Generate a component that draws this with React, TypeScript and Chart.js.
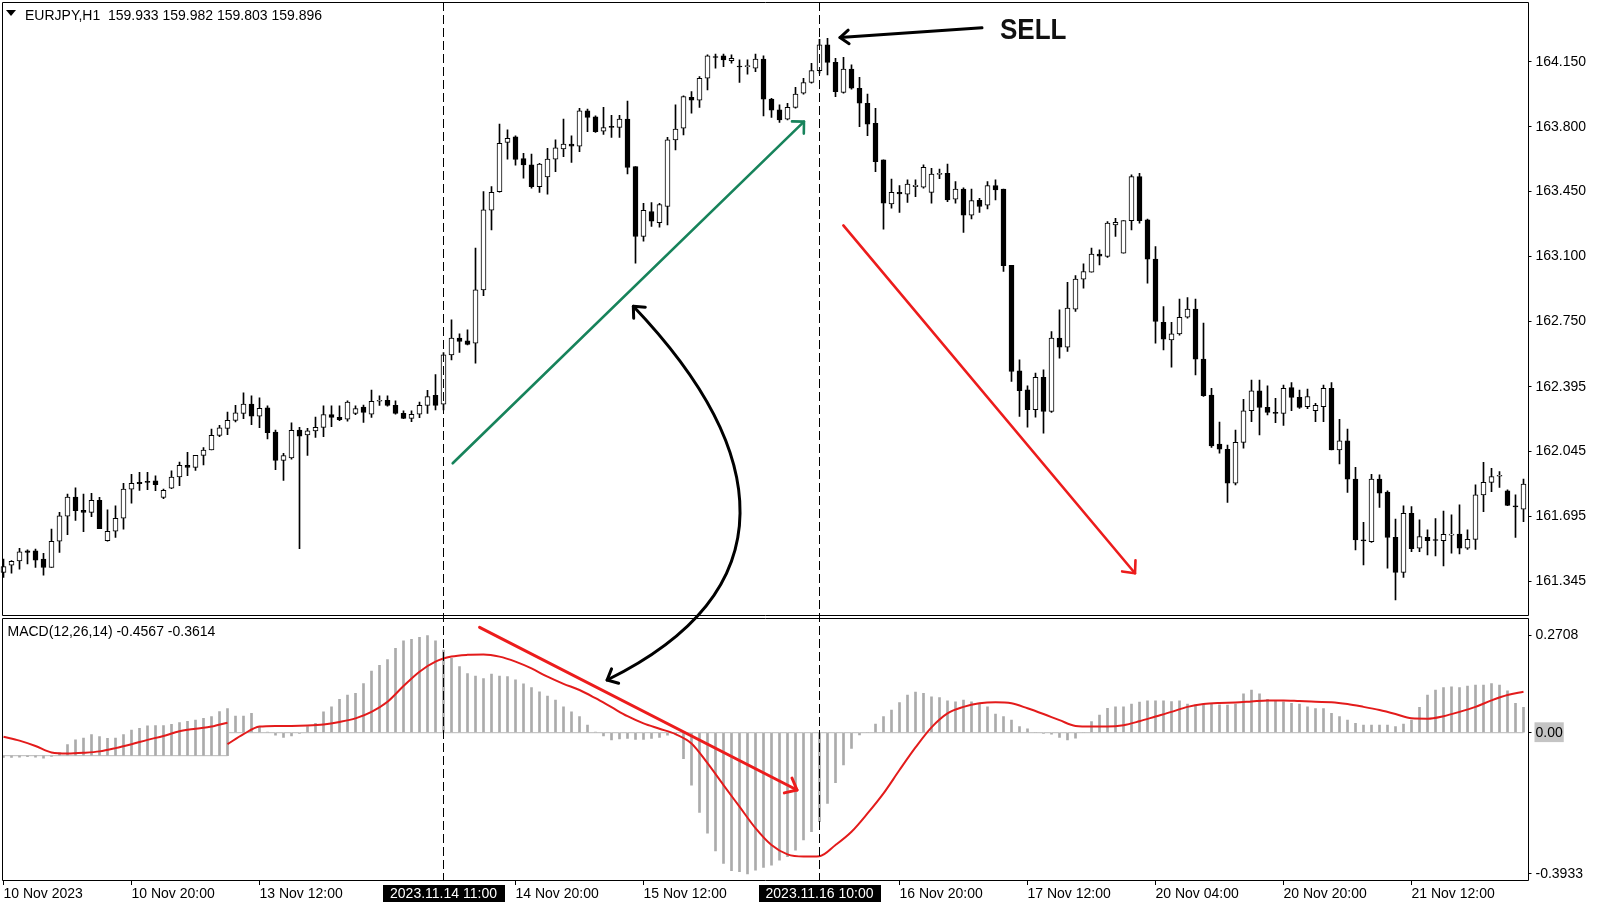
import React, { useEffect, useRef } from 'react';
import { Chart, registerables } from 'chart.js';

Chart.register(...registerables);

const FONT_FAMILY = '"Liberation Sans", Arial, sans-serif';

// ---------- categories (hourly bars) ----------
const sessionDays = ['10 Nov', '13 Nov', '14 Nov', '15 Nov', '16 Nov', '17 Nov', '20 Nov', '21 Nov', '22 Nov'];
const sessionFirstHour = [4, 0, 0, 0, 0, 0, 0, 0, 0];
const sessionLastHour = [23, 23, 23, 23, 23, 23, 23, 23, 2];

const barLabels: string[] = [];
sessionDays.forEach((d, k) => {
  for (let h = sessionFirstHour[k]; h <= sessionLastHour[k]; h++) {
    barLabels.push(`${d} ${String(h).padStart(2, '0')}:00`);
  }
});

// ---------- axis tick labels ----------
const xTickBars = [0, 16, 32, 64, 80, 112, 128, 144, 160, 176];
const xTickTexts = ['10 Nov 2023', '10 Nov 20:00', '13 Nov 12:00', '14 Nov 20:00', '15 Nov 12:00', '16 Nov 20:00', '17 Nov 12:00', '20 Nov 04:00', '20 Nov 20:00', '21 Nov 12:00'];
const priceTickValues = [164.15, 163.8, 163.45, 163.1, 162.75, 162.395, 162.045, 161.695, 161.345];
const priceTickLabels = ['164.150', '163.800', '163.450', '163.100', '162.750', '162.395', '162.045', '161.695', '161.345'];
const macdTickValues = [0.2708, 0, -0.3933];
const macdTickLabels = ['0.2708', '0.00', '-0.3933'];
const priceRange = [161.157, 164.474];
const macdRange = [-0.4103, 0.3251];

// ---------- EURJPY H1 OHLC ----------
const opens = [
  161.393, 161.431, 161.455, 161.509, 161.509, 161.465, 161.419, 161.561, 161.696, 161.800,
  161.728, 161.717, 161.782, 161.564, 161.615, 161.685, 161.842, 161.879, 161.885, 161.887,
  161.797, 161.847, 161.908, 161.971, 161.960, 162.025, 162.054, 162.133, 162.171, 162.214,
  162.252, 162.302, 162.236, 162.281, 162.151, 161.998, 162.011, 162.162, 162.135, 162.157,
  162.176, 162.245, 162.230, 162.220, 162.252, 162.286, 162.248, 162.317, 162.322, 162.295,
  162.252, 162.225, 162.248, 162.295, 162.349, 162.302, 162.568, 162.658, 162.644, 162.631,
  162.919, 163.349, 163.450, 163.716, 163.745, 163.628, 163.594, 163.477, 163.529, 163.625,
  163.680, 163.706, 163.695, 163.886, 163.853, 163.776, 163.803, 163.797, 163.841, 163.585,
  163.207, 163.342, 163.282, 163.369, 163.729, 163.792, 163.959, 163.943, 164.062, 164.175,
  164.183, 164.157, 164.125, 164.125, 164.116, 164.165, 163.949, 163.891, 163.841, 163.905,
  163.981, 164.039, 164.103, 164.242, 164.148, 163.986, 164.111, 164.008, 163.927, 163.819,
  163.621, 163.383, 163.446, 163.436, 163.477, 163.473, 163.445, 163.542, 163.549, 163.409,
  163.463, 163.322, 163.403, 163.376, 163.482, 163.463, 163.052, 162.482, 162.379, 162.271,
  162.446, 162.262, 162.658, 162.609, 162.815, 162.977, 163.014, 163.112, 163.099, 163.270,
  163.117, 163.293, 163.531, 163.297, 163.085, 162.744, 162.649, 162.681, 162.771, 162.815,
  162.545, 162.351, 162.086, 162.058, 161.874, 162.095, 162.266, 162.373, 162.284, 162.257,
  162.252, 162.391, 162.338, 162.288, 162.266, 162.288, 162.387, 162.054, 162.103, 161.897,
  161.566, 161.559, 161.897, 161.827, 161.582, 161.393, 161.712, 161.523, 161.582, 161.566,
  161.564, 161.593, 161.600, 161.523, 161.571, 161.811, 161.879, 161.912, 161.833, 161.752,
  161.734,
];
const highs = [
  161.464, 161.456, 161.523, 161.514, 161.518, 161.496, 161.627, 161.717, 161.816, 161.849,
  161.816, 161.820, 161.798, 161.730, 161.752, 161.874, 161.923, 161.933, 161.933, 161.914,
  161.842, 161.941, 161.989, 162.041, 162.025, 162.067, 162.167, 162.187, 162.259, 162.295,
  162.362, 162.346, 162.335, 162.292, 162.162, 162.036, 162.200, 162.176, 162.171, 162.232,
  162.293, 162.293, 162.292, 162.319, 162.293, 162.297, 162.378, 162.346, 162.346, 162.319,
  162.265, 162.265, 162.313, 162.376, 162.461, 162.580, 162.757, 162.681, 162.703, 163.144,
  163.450, 163.477, 163.815, 163.783, 163.751, 163.657, 163.653, 163.603, 163.684, 163.729,
  163.842, 163.751, 163.900, 163.895, 163.859, 163.905, 163.862, 163.862, 163.939, 163.585,
  163.387, 163.390, 163.387, 163.743, 163.918, 163.967, 163.990, 164.071, 164.188, 164.193,
  164.193, 164.188, 164.161, 164.161, 164.193, 164.183, 163.954, 163.918, 163.927, 164.013,
  164.062, 164.143, 164.272, 164.278, 164.170, 164.175, 164.134, 164.067, 163.977, 163.900,
  163.621, 163.518, 163.482, 163.513, 163.513, 163.594, 163.576, 163.571, 163.599, 163.504,
  163.470, 163.463, 163.414, 163.504, 163.513, 163.463, 163.052, 162.541, 162.401, 162.469,
  162.487, 162.694, 162.811, 162.960, 162.996, 163.059, 163.144, 163.135, 163.288, 163.306,
  163.293, 163.540, 163.549, 163.301, 163.153, 162.829, 162.744, 162.869, 162.877, 162.869,
  162.739, 162.387, 162.205, 162.081, 162.162, 162.328, 162.432, 162.432, 162.400, 162.333,
  162.405, 162.418, 162.378, 162.383, 162.306, 162.405, 162.418, 162.220, 162.167, 161.960,
  161.663, 161.923, 161.919, 161.833, 161.680, 161.752, 161.748, 161.676, 161.622, 161.683,
  161.724, 161.703, 161.757, 161.622, 161.865, 161.987, 161.955, 161.937, 161.838, 161.811,
  161.897,
];
const lows = [
  161.366, 161.388, 161.410, 161.438, 161.419, 161.377, 161.419, 161.501, 161.597, 161.674,
  161.613, 161.694, 161.629, 161.561, 161.582, 161.626, 161.766, 161.836, 161.840, 161.834,
  161.791, 161.845, 161.861, 161.915, 161.944, 161.973, 162.054, 162.126, 162.137, 162.205,
  162.223, 162.191, 162.175, 162.113, 161.948, 161.890, 162.004, 161.521, 162.025, 162.122,
  162.126, 162.180, 162.212, 162.209, 162.245, 162.203, 162.230, 162.295, 162.290, 162.248,
  162.223, 162.207, 162.229, 162.252, 162.270, 162.270, 162.541, 162.581, 162.622, 162.523,
  162.888, 163.243, 163.446, 163.625, 163.592, 163.522, 163.468, 163.445, 163.436, 163.558,
  163.639, 163.608, 163.666, 163.774, 163.769, 163.758, 163.743, 163.743, 163.545, 163.063,
  163.182, 163.261, 163.257, 163.270, 163.675, 163.756, 163.873, 163.904, 163.999, 164.116,
  164.125, 164.143, 164.039, 164.084, 164.098, 163.859, 163.851, 163.823, 163.837, 163.900,
  163.976, 164.035, 164.089, 164.080, 163.963, 163.981, 164.003, 163.801, 163.752, 163.558,
  163.247, 163.360, 163.337, 163.391, 163.423, 163.468, 163.387, 163.520, 163.396, 163.387,
  163.229, 163.302, 163.337, 163.356, 163.405, 163.018, 162.424, 162.235, 162.177, 162.231,
  162.145, 162.257, 162.550, 162.586, 162.802, 162.928, 163.014, 163.054, 163.094, 163.207,
  163.117, 163.243, 163.279, 162.955, 162.631, 162.595, 162.501, 162.674, 162.766, 162.460,
  162.343, 162.068, 162.036, 161.770, 161.865, 162.063, 162.207, 162.135, 162.243, 162.202,
  162.187, 162.266, 162.279, 162.277, 162.207, 162.207, 162.054, 161.978, 161.824, 161.514,
  161.433, 161.554, 161.743, 161.415, 161.244, 161.366, 161.505, 161.505, 161.487, 161.481,
  161.427, 161.496, 161.492, 161.517, 161.517, 161.721, 161.829, 161.852, 161.753, 161.582,
  161.667,
];
const closes = [
  161.424, 161.453, 161.503, 161.501, 161.458, 161.419, 161.561, 161.698, 161.800, 161.726,
  161.717, 161.782, 161.629, 161.615, 161.685, 161.842, 161.874, 161.872, 161.878, 161.867,
  161.836, 161.908, 161.971, 161.960, 162.025, 162.054, 162.133, 162.173, 162.214, 162.254,
  162.302, 162.236, 162.279, 162.148, 161.998, 162.023, 162.160, 162.128, 162.158, 162.176,
  162.245, 162.230, 162.218, 162.313, 162.277, 162.257, 162.317, 162.322, 162.295, 162.252,
  162.225, 162.247, 162.295, 162.342, 162.295, 162.568, 162.658, 162.640, 162.624, 162.919,
  163.351, 163.446, 163.711, 163.738, 163.623, 163.594, 163.477, 163.598, 163.625, 163.686,
  163.706, 163.695, 163.886, 163.851, 163.774, 163.796, 163.796, 163.841, 163.581, 163.207,
  163.349, 163.290, 163.380, 163.729, 163.788, 163.963, 163.943, 164.062, 164.183, 164.174,
  164.161, 164.170, 164.123, 164.129, 164.165, 163.949, 163.889, 163.837, 163.905, 163.976,
  164.039, 164.103, 164.242, 164.148, 163.990, 164.111, 164.008, 163.927, 163.814, 163.612,
  163.387, 163.446, 163.437, 163.490, 163.484, 163.581, 163.545, 163.549, 163.405, 163.463,
  163.322, 163.401, 163.369, 163.482, 163.459, 163.050, 162.478, 162.374, 162.271, 162.446,
  162.262, 162.658, 162.609, 162.820, 162.977, 163.018, 163.112, 163.101, 163.279, 163.284,
  163.293, 163.531, 163.293, 163.085, 162.748, 162.653, 162.681, 162.771, 162.815, 162.545,
  162.347, 162.076, 162.058, 161.874, 162.095, 162.266, 162.374, 162.284, 162.257, 162.252,
  162.387, 162.338, 162.284, 162.342, 162.295, 162.387, 162.054, 162.103, 161.896, 161.568,
  161.563, 161.897, 161.820, 161.582, 161.393, 161.712, 161.521, 161.586, 161.564, 161.565,
  161.598, 161.600, 161.523, 161.571, 161.811, 161.879, 161.910, 161.914, 161.755, 161.746,
  161.869,
];

// ---------- MACD(12,26,14) histogram as shown ----------
const macdHist = [
  -0.005, -0.005, -0.004, -0.003, -0.004, -0.007, -0.002, 0.008, 0.031, 0.044,
  0.049, 0.059, 0.053, 0.048, 0.049, 0.059, 0.071, 0.076, 0.083, 0.084,
  0.084, 0.087, 0.092, 0.096, 0.099, 0.104, 0.109, 0.123, 0.131,
  0.046, 0.046, 0.054, 0.017, 0.002, -0.007, -0.013, -0.009, -0.002, 0.017, 0.026,
  0.058, 0.072, 0.093, 0.105, 0.110, 0.137, 0.172, 0.188, 0.204, 0.235,
  0.256, 0.260, 0.266, 0.2708, 0.256, 0.230, 0.207, 0.184, 0.165, 0.158,
  0.151, 0.163, 0.158, 0.156, 0.147, 0.136, 0.126, 0.114, 0.102, 0.091,
  0.072, 0.058, 0.045, 0.021, 0.002, -0.009, -0.020, -0.017, -0.016, -0.019,
  -0.019, -0.016, -0.013, -0.007, -0.004, -0.072, -0.146, -0.222, -0.280, -0.329,
  -0.364, -0.384, -0.387, -0.3933, -0.383, -0.375, -0.369, -0.355, -0.345, -0.327,
  -0.299, -0.276, -0.248, -0.197, -0.139, -0.090, -0.044, -0.006, 0.000, 0.024,
  0.045, 0.063, 0.084, 0.105, 0.113, 0.110, 0.100, 0.098, 0.089, 0.086,
  0.091, 0.086, 0.082, 0.072, 0.052, 0.045, 0.035, 0.017, 0.011, 0.000,
  -0.002, -0.004, -0.013, -0.020, -0.015, 0.000, 0.031, 0.049, 0.068, 0.072,
  0.072, 0.080, 0.085, 0.089, 0.089, 0.089, 0.087, 0.089, 0.080, 0.077,
  0.080, 0.079, 0.078, 0.077, 0.080, 0.108, 0.119, 0.108, 0.093, 0.089,
  0.086, 0.082, 0.080, 0.072, 0.067, 0.067, 0.054, 0.045, 0.035, 0.026,
  0.021, 0.021, 0.021, 0.021, 0.017, 0.024, 0.035, 0.071, 0.105, 0.119,
  0.126, 0.128, 0.126, 0.130, 0.133, 0.133, 0.137, 0.133, 0.117, 0.082,
  0.071,
];
// the left part of the sub-window is pasted lower than the rest
const shiftedBars = 29;
const shiftedBase = -0.064;

// signal line, read every second bar
const signalBarsA = [0, 2, 4, 6, 8, 10, 12, 14, 16, 18, 20, 22, 24, 26, 28];
const signalValsA = [-0.011, -0.022, -0.037, -0.055, -0.058, -0.056, -0.052, -0.043, -0.032, -0.020, -0.009, 0.004, 0.011, 0.017, 0.028];
const signalBarsB = Array.from({ length: 82 }, (_, k) => 28 + 2 * k);
const signalValsB = [
  -0.032, -0.004, 0.017, 0.019, 0.019, 0.020, 0.023, 0.030, 0.040, 0.058,
  0.086, 0.130, 0.170, 0.198, 0.212, 0.217, 0.218, 0.212, 0.198, 0.179,
  0.156, 0.136, 0.119, 0.096, 0.071, 0.046, 0.026, 0.011, -0.004, -0.030,
  -0.085, -0.146, -0.206, -0.266, -0.313, -0.339, -0.345, -0.344, -0.313, -0.276,
  -0.225, -0.169, -0.104, -0.041, 0.015, 0.054, 0.072, 0.082, 0.085, 0.082,
  0.068, 0.052, 0.035, 0.019, 0.017, 0.017, 0.021, 0.032, 0.045, 0.058,
  0.072, 0.080, 0.083, 0.084, 0.087, 0.090, 0.090, 0.088, 0.086, 0.085,
  0.080, 0.072, 0.063, 0.052, 0.040, 0.039, 0.046, 0.058, 0.072, 0.090,
  0.105, 0.114,
];

// ---------- drawn annotations (bar index, price / macd value) ----------
const vlineBars = [55, 102];
const vlineLabels = ['2023.11.14 11:00', '2023.11.16 10:00'];
const greenTrend = [[56.15, 161.982], [100.06, 163.828]];
const redTrend = [[104.98, 163.267], [141.44, 161.388]];
const sellArrow = [[122.31, 164.335], [104.56, 164.282]];
const sellText = 'SELL';
const sellTextAt = [124.56, 164.274];
const curvePricePts = [[78.73, 162.83], [95.81, 162.054], [98.31, 161.298]];
const curveMacdEnd = [75.45, 0.1468];
const macdArrow = [[59.51, 0.2936], [99.19, -0.1596]];
const titleText = 'EURJPY,H1  159.933 159.982 159.803 159.896';
const macdText = 'MACD(12,26,14) -0.4567 -0.3614';

const SIGNAL_RED = '#e31b1b';
const ARROW_RED = '#ec1c1c';
const GREEN = '#17835b';

function toSeries(bars: number[], vals: number[]) {
  const out: (number | null)[] = barLabels.map(() => null);
  bars.forEach((b, k) => { out[b] = vals[k]; });
  return out;
}

function arrowHead(ctx: CanvasRenderingContext2D, fx: number, fy: number, tx: number, ty: number, len: number, deg: number) {
  const a = Math.atan2(ty - fy, tx - fx);
  const h = (deg * Math.PI) / 180;
  ctx.beginPath();
  ctx.moveTo(tx - len * Math.cos(a - h), ty - len * Math.sin(a - h));
  ctx.lineTo(tx, ty);
  ctx.lineTo(tx - len * Math.cos(a + h), ty - len * Math.sin(a + h));
  ctx.stroke();
}

const overlayPlugin = {
  id: 'mt4Overlay',
  afterDraw(chart: any) {
    const { ctx, chartArea, scales } = chart;
    const xs = scales.x;
    const py = scales.y;
    const my = scales.y2;
    const X = (b: number) => xs.getPixelForValue(b);
    const P = (p: number) => py.getPixelForValue(p);
    const M = (v: number) => my.getPixelForValue(v);
    const font = (s: number, w = '') => `${w} ${s}px ${FONT_FAMILY}`.trim();

    ctx.save();
    ctx.lineCap = 'round';
    ctx.lineJoin = 'round';

    // green trend arrow
    ctx.strokeStyle = GREEN;
    ctx.lineWidth = 2.6;
    const g0x = X(greenTrend[0][0]), g0y = P(greenTrend[0][1]);
    const g1x = X(greenTrend[1][0]), g1y = P(greenTrend[1][1]);
    ctx.beginPath(); ctx.moveTo(g0x, g0y); ctx.lineTo(g1x, g1y); ctx.stroke();
    arrowHead(ctx, g0x, g0y, g1x, g1y, 12, 45);

    // red trend arrow (price)
    ctx.strokeStyle = ARROW_RED;
    ctx.lineWidth = 2.6;
    const r0x = X(redTrend[0][0]), r0y = P(redTrend[0][1]);
    const r1x = X(redTrend[1][0]), r1y = P(redTrend[1][1]);
    ctx.beginPath(); ctx.moveTo(r0x, r0y); ctx.lineTo(r1x, r1y); ctx.stroke();
    arrowHead(ctx, r0x, r0y, r1x, r1y, 13, 42);

    // red arrow (MACD)
    ctx.lineWidth = 3;
    const m0x = X(macdArrow[0][0]), m0y = M(macdArrow[0][1]);
    const m1x = X(macdArrow[1][0]), m1y = M(macdArrow[1][1]);
    ctx.beginPath(); ctx.moveTo(m0x, m0y); ctx.lineTo(m1x, m1y); ctx.stroke();
    arrowHead(ctx, m0x, m0y, m1x, m1y, 13, 40);

    // black curved double arrow linking price and MACD
    ctx.strokeStyle = '#000';
    ctx.lineWidth = 3;
    const c0x = X(curvePricePts[0][0]), c0y = P(curvePricePts[0][1]);
    const c1x = X(curvePricePts[1][0]), c1y = P(curvePricePts[1][1]);
    const c2x = X(curvePricePts[2][0]), c2y = P(curvePricePts[2][1]);
    const c3x = X(curveMacdEnd[0]), c3y = M(curveMacdEnd[1]);
    ctx.beginPath(); ctx.moveTo(c0x, c0y); ctx.bezierCurveTo(c1x, c1y, c2x, c2y, c3x, c3y); ctx.stroke();
    arrowHead(ctx, c1x, c1y, c0x, c0y, 12, 42);
    arrowHead(ctx, c2x, c2y, c3x, c3y, 12, 42);

    // SELL arrow + text
    const s0x = X(sellArrow[0][0]), s0y = P(sellArrow[0][1]);
    const s1x = X(sellArrow[1][0]), s1y = P(sellArrow[1][1]);
    ctx.beginPath(); ctx.moveTo(s0x, s0y); ctx.lineTo(s1x, s1y); ctx.stroke();
    arrowHead(ctx, s0x, s0y, s1x, s1y, 11, 38);
    ctx.save();
    ctx.fillStyle = '#111';
    ctx.font = font(28, 'bold');
    ctx.textBaseline = 'alphabetic';
    ctx.textAlign = 'left';
    ctx.translate(X(sellTextAt[0]), P(sellTextAt[1]));
    ctx.scale(0.93, 1.05);
    ctx.fillText(sellText, 0, 0);
    ctx.restore();

    // dashed vertical lines + their time boxes
    ctx.lineCap = 'butt';
    ctx.lineWidth = 1;
    ctx.strokeStyle = '#000';
    ctx.setLineDash([9, 4]);
    vlineBars.forEach((b) => {
      const x = Math.floor(X(b)) + 0.5;
      ctx.beginPath(); ctx.moveTo(x, chartArea.top); ctx.lineTo(x, chartArea.bottom); ctx.stroke();
    });
    ctx.setLineDash([]);
    ctx.font = font(14);
    ctx.textAlign = 'center';
    ctx.textBaseline = 'middle';
    vlineBars.forEach((b, k) => {
      const x = Math.floor(X(b)) + 0.5;
      ctx.fillStyle = '#000';
      ctx.fillRect(Math.round(x - 61), chartArea.bottom + 5, 122, 17);
      ctx.fillStyle = '#fff';
      ctx.fillText(vlineLabels[k], x, chartArea.bottom + 14);
    });

    // panel frames
    const L = Math.floor(chartArea.left) + 3.5;
    const R = Math.floor(chartArea.right) + 1.5;
    ctx.strokeStyle = '#000';
    ctx.lineWidth = 1;
    ctx.strokeRect(L, py.top + 0.5, R - L, py.bottom - py.top - 1);
    ctx.strokeRect(L, my.top + 2.5, R - L, my.bottom - my.top - 2);

    // header texts
    ctx.fillStyle = '#000';
    ctx.beginPath();
    ctx.moveTo(L + 3.5, 10); ctx.lineTo(L + 13.5, 10); ctx.lineTo(L + 8.5, 16); ctx.closePath(); ctx.fill();
    ctx.font = font(14);
    ctx.textAlign = 'left';
    ctx.textBaseline = 'alphabetic';
    ctx.fillText(titleText, L + 22.5, 20);
    ctx.fillText(macdText, L + 5, my.top + 20);

    ctx.restore();
  },
};

function buildConfig(): any {
  const bodies = opens.map((o, i) => [o, closes[i]]);
  const bodyColors = opens.map((o, i) => (closes[i] >= o ? '#ffffff' : '#000000'));
  const wicks = lows.map((l, i) => [l, highs[i]]);
  const hist = macdHist.map((v, i) => {
    const base = i < shiftedBars ? shiftedBase : 0;
    return [base, base + v];
  });
  const zeroA = barLabels.map((_, i) => (i < shiftedBars ? shiftedBase : null));
  const zeroB = barLabels.map((_, i) => (i >= shiftedBars - 1 ? 0 : null));
  const tickFont = { family: FONT_FAMILY, size: 14 };
  const noPadV = (s: any) => { s.width = 72.5; s.paddingTop = 0; s.paddingBottom = 0; };

  return {
    type: 'bar',
    data: {
      labels: barLabels,
      datasets: [
        { type: 'line', label: 'signal A', data: toSeries(signalBarsA, signalValsA), yAxisID: 'y2', borderColor: SIGNAL_RED, borderWidth: 2, pointRadius: 0, spanGaps: true, cubicInterpolationMode: 'monotone', order: 1 },
        { type: 'line', label: 'signal B', data: toSeries(signalBarsB, signalValsB), yAxisID: 'y2', borderColor: SIGNAL_RED, borderWidth: 2, pointRadius: 0, spanGaps: true, cubicInterpolationMode: 'monotone', order: 1 },
        { type: 'bar', label: 'body', data: bodies, yAxisID: 'y', backgroundColor: bodyColors, borderColor: '#000', borderWidth: 1, borderSkipped: false, barThickness: 5, minBarLength: 1, grouped: false, order: 2 },
        { type: 'bar', label: 'wick', data: wicks, yAxisID: 'y', backgroundColor: '#000', borderWidth: 0, barThickness: 1, grouped: false, order: 3 },
        { type: 'line', label: 'level A', data: zeroA, yAxisID: 'y2', borderColor: '#b8b8b8', borderWidth: 1, pointRadius: 0, order: 4 },
        { type: 'line', label: 'level B', data: zeroB, yAxisID: 'y2', borderColor: '#b8b8b8', borderWidth: 1, pointRadius: 0, order: 4 },
        { type: 'bar', label: 'MACD', data: hist, yAxisID: 'y2', backgroundColor: '#ababab', borderWidth: 0, barThickness: 2, grouped: false, order: 5 },
      ],
    },
    options: {
      responsive: false,
      animation: false,
      devicePixelRatio: 1,
      events: [],
      layout: { padding: { left: 0.5, top: 2, right: 0, bottom: 0 } },
      plugins: { legend: { display: false }, tooltip: { enabled: false } },
      scales: {
        x: {
          type: 'category',
          offset: true,
          grid: { display: true, offset: false, drawOnChartArea: false, drawTicks: true, tickLength: 5, color: '#000' },
          border: { display: false },
          ticks: {
            autoSkip: false, maxRotation: 0, minRotation: 0, align: 'start', padding: 1,
            color: '#000', font: tickFont,
            callback: (_v: any, i: number) => {
              const k = xTickBars.indexOf(i);
              return k >= 0 ? xTickTexts[k] : null;
            },
          },
          afterFit: (s: any) => { s.height = 28; s.paddingLeft = 0; s.paddingRight = 0; },
        },
        y: {
          type: 'linear', position: 'right', stack: 'panes', stackWeight: 614,
          min: priceRange[0], max: priceRange[1],
          grid: { display: true, drawOnChartArea: false, drawTicks: true, tickLength: 4, color: '#000' },
          border: { display: false },
          ticks: { color: '#000', font: tickFont, padding: 4, autoSkip: false, callback: (_v: any, i: number) => priceTickLabels[i] },
          afterBuildTicks: (s: any) => { s.ticks = priceTickValues.map((v) => ({ value: v })); },
          afterFit: noPadV,
        },
        y2: {
          type: 'linear', position: 'right', stack: 'panes', stackWeight: 264,
          min: macdRange[0], max: macdRange[1],
          grid: { display: true, drawOnChartArea: false, drawTicks: true, tickLength: 4, color: '#000' },
          border: { display: false },
          ticks: {
            color: '#000', font: tickFont, padding: 4, autoSkip: false,
            callback: (_v: any, i: number) => macdTickLabels[i],
            showLabelBackdrop: (c: any) => c.tick && c.tick.value === 0,
            backdropColor: '#c4c4c4',
            backdropPadding: { left: 1, right: 1, top: 2, bottom: 1 },
          },
          afterBuildTicks: (s: any) => { s.ticks = macdTickValues.map((v) => ({ value: v })); },
          afterFit: noPadV,
        },
      },
    },
    plugins: [overlayPlugin],
  };
}

export default function App() {
  const ref = useRef<HTMLCanvasElement>(null);
  useEffect(() => {
    if (!ref.current) return;
    const chart = new Chart(ref.current, buildConfig());
    return () => chart.destroy();
  }, []);
  return (
    <div style={{ position: 'absolute', left: 0, top: 0, width: 1600, height: 908, overflow: 'hidden', background: '#fff' }}>
      <canvas ref={ref} width={1601} height={908} style={{ position: 'absolute', left: -1, top: 0, width: 1601, height: 908 }} />
    </div>
  );
}
